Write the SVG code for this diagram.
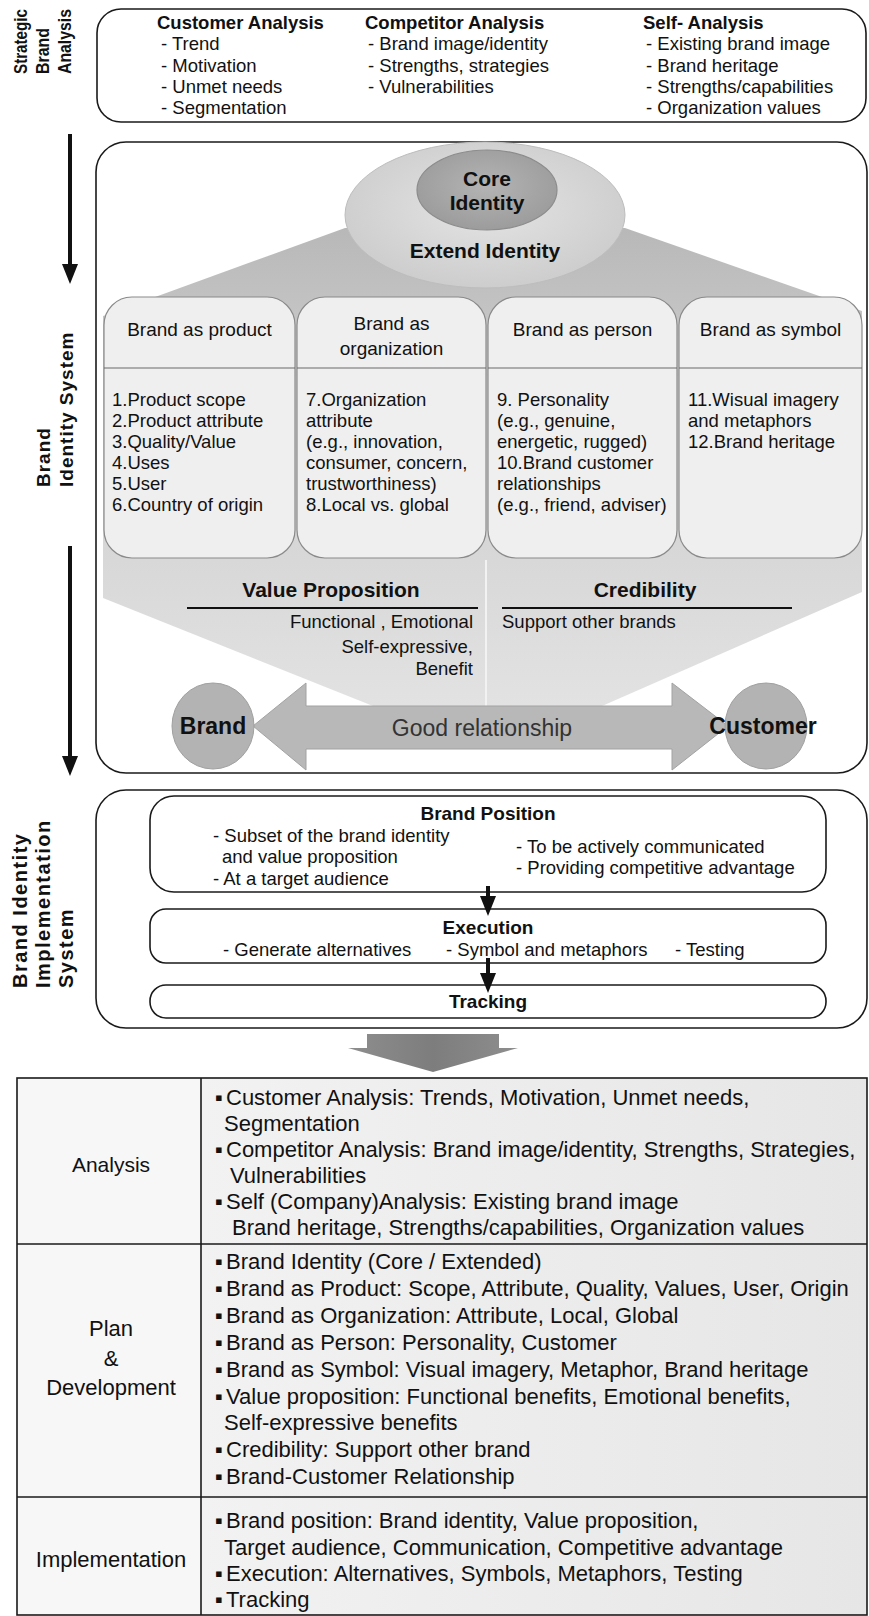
<svg xmlns="http://www.w3.org/2000/svg" width="869" height="1616" viewBox="0 0 869 1616">
<defs>
<linearGradient id="fan" x1="0" y1="0" x2="0" y2="1">
<stop offset="0" stop-color="#b8b8b8"/>
<stop offset="0.3" stop-color="#cbcbcb"/>
<stop offset="1" stop-color="#e2e2e2"/>
</linearGradient>
<radialGradient id="ext" cx="0.5" cy="0.45" r="0.55">
<stop offset="0" stop-color="#e4e4e4"/>
<stop offset="1" stop-color="#cdcdcd"/>
</radialGradient>
<radialGradient id="core" cx="0.5" cy="0.45" r="0.55">
<stop offset="0" stop-color="#b4b4b4"/>
<stop offset="1" stop-color="#9c9c9c"/>
</radialGradient>
<linearGradient id="cell" x1="0" y1="0" x2="1" y2="0">
<stop offset="0" stop-color="#f2f2f2"/>
<stop offset="1" stop-color="#e6e6e6"/>
</linearGradient>
<linearGradient id="down" x1="0" y1="0" x2="1" y2="0">
<stop offset="0" stop-color="#8e8e8e"/>
<stop offset="0.5" stop-color="#7d7d7d"/>
<stop offset="1" stop-color="#8e8e8e"/>
</linearGradient>
<marker id="ah" viewBox="0 0 20 16" refX="8" refY="8" markerWidth="20" markerHeight="16" markerUnits="userSpaceOnUse" orient="auto">
<path d="M0,0 L20,8 L0,16 Z" fill="#111"/>
</marker>
</defs>
<style>
text { font-family: "Liberation Sans", Arial, sans-serif; fill: #111; }
.b { font-weight: bold; }
.s18 { font-size: 18.5px; }
.s19 { font-size: 19px; }
.s21 { font-size: 21px; }
.s22 { font-size: 22px; }
.s23 { font-size: 23px; }
.m { text-anchor: middle; }
.e { text-anchor: end; }
.lbl { font-weight: bold; }
.box { fill: #fff; stroke: #1a1a1a; stroke-width: 1.6; }
.col { fill: #efefef; stroke: #8a8a8a; stroke-width: 1.2; }
.sep { stroke: #6a6a6a; stroke-width: 1.2; }
.rule { stroke: #111; stroke-width: 2; }
.blk { stroke: #111; stroke-width: 4; fill: none; marker-end: url(#ah); }
.tb { stroke: #1a1a1a; stroke-width: 1.6; }
</style>

<g id="labels">
<text class="lbl" font-size="18" textLength="65" lengthAdjust="spacingAndGlyphs" transform="translate(27,74) rotate(-90)">Strategic</text>
<text class="lbl" font-size="18" textLength="46" lengthAdjust="spacingAndGlyphs" transform="translate(49,74) rotate(-90)">Brand</text>
<text class="lbl" font-size="18" textLength="65" lengthAdjust="spacingAndGlyphs" transform="translate(71,74) rotate(-90)">Analysis</text>
<text class="lbl" font-size="19" letter-spacing="1" transform="translate(50,487) rotate(-90)">Brand</text>
<text class="lbl" font-size="19" letter-spacing="1" transform="translate(73,487) rotate(-90)">Identity System</text>
<text class="lbl" font-size="20" letter-spacing="1.5" transform="translate(27,988) rotate(-90)">Brand Identity</text>
<text class="lbl" font-size="20" letter-spacing="1.5" transform="translate(50,988) rotate(-90)">Implementation</text>
<text class="lbl" font-size="20" letter-spacing="1.5" transform="translate(73,988) rotate(-90)">System</text>
</g>

<g id="strategic-analysis">
<rect class="box" x="97" y="9" width="769" height="113" rx="24"/>
<text class="b s18" x="157" y="29">Customer Analysis</text>
<text class="s18" x="161" y="50">- Trend</text>
<text class="s18" x="161" y="72">- Motivation</text>
<text class="s18" x="161" y="93">- Unmet needs</text>
<text class="s18" x="161" y="114">- Segmentation</text>
<text class="b s18" x="365" y="29">Competitor Analysis</text>
<text class="s18" x="368" y="50">- Brand image/identity</text>
<text class="s18" x="368" y="72">- Strengths, strategies</text>
<text class="s18" x="368" y="93">- Vulnerabilities</text>
<text class="b s18" x="643" y="29">Self- Analysis</text>
<text class="s18" x="646" y="50">- Existing brand image</text>
<text class="s18" x="646" y="72">- Brand heritage</text>
<text class="s18" x="646" y="93">- Strengths/capabilities</text>
<text class="s18" x="646" y="114">- Organization values</text>
</g>

<g id="identity-system">
<rect class="box" x="96" y="142" width="771" height="631" rx="30"/>
<path d="M345,228 L625,228 L862,311 L862,592 L602,706 L373,706 L103,598 L103,316 Z" fill="url(#fan)"/>
<line x1="486" y1="560" x2="486" y2="706" stroke="#f2f2f2" stroke-width="2"/>
</g>

<g id="identity-core">
<ellipse cx="485" cy="215" rx="140" ry="73" fill="url(#ext)" stroke="#bdbdbd" stroke-width="1"/>
<ellipse cx="487" cy="190" rx="70" ry="40" fill="url(#core)" stroke="#8c8c8c" stroke-width="1.2"/>
<text class="b s21 m" x="487" y="186">Core</text>
<text class="b s21 m" x="487" y="210">Identity</text>
<text class="b s21 m" x="485" y="258">Extend Identity</text>
</g>

<g id="brand-as-product">
<rect class="col" x="104" y="297" width="191" height="261" rx="28"/>
<line class="sep" x1="104" y1="368" x2="295" y2="368"/>
<text class="s19 m" x="199.5" y="336">Brand as product</text>
<text class="s18" x="112" y="406">1.Product scope</text>
<text class="s18" x="112" y="427">2.Product attribute</text>
<text class="s18" x="112" y="448">3.Quality/Value</text>
<text class="s18" x="112" y="469">4.Uses</text>
<text class="s18" x="112" y="490">5.User</text>
<text class="s18" x="112" y="511">6.Country of origin</text>
</g>

<g id="brand-as-organization">
<rect class="col" x="297" y="297" width="189" height="261" rx="28"/>
<line class="sep" x1="297" y1="368" x2="486" y2="368"/>
<text class="s19 m" x="391.5" y="330">Brand as</text>
<text class="s19 m" x="391.5" y="355">organization</text>
<text class="s18" x="306" y="406">7.Organization</text>
<text class="s18" x="306" y="427">attribute</text>
<text class="s18" x="306" y="448">(e.g., innovation,</text>
<text class="s18" x="306" y="469">consumer, concern,</text>
<text class="s18" x="306" y="490">trustworthiness)</text>
<text class="s18" x="306" y="511">8.Local vs. global</text>
</g>

<g id="brand-as-person">
<rect class="col" x="488" y="297" width="189" height="261" rx="28"/>
<line class="sep" x1="488" y1="368" x2="677" y2="368"/>
<text class="s19 m" x="582.5" y="336">Brand as person</text>
<text class="s18" x="497" y="406">9. Personality</text>
<text class="s18" x="497" y="427">(e.g., genuine,</text>
<text class="s18" x="497" y="448">energetic, rugged)</text>
<text class="s18" x="497" y="469">10.Brand customer</text>
<text class="s18" x="497" y="490">relationships</text>
<text class="s18" x="497" y="511">(e.g., friend, adviser)</text>
</g>

<g id="brand-as-symbol">
<rect class="col" x="679" y="297" width="183" height="261" rx="28"/>
<line class="sep" x1="679" y1="368" x2="862" y2="368"/>
<text class="s19 m" x="770.5" y="336">Brand as symbol</text>
<text class="s18" x="688" y="406">11.Wisual imagery</text>
<text class="s18" x="688" y="427">and metaphors</text>
<text class="s18" x="688" y="448">12.Brand heritage</text>
</g>

<g id="value-proposition">
<text class="b s21 m" x="331" y="597">Value Proposition</text>
<line class="rule" x1="187" y1="608" x2="478" y2="608"/>
<text class="s18 e" x="473" y="628">Functional , Emotional</text>
<text class="s18 e" x="473" y="653">Self-expressive,</text>
<text class="s18 e" x="473" y="675">Benefit</text>
</g>

<g id="credibility">
<text class="b s21 m" x="645" y="597">Credibility</text>
<line class="rule" x1="502" y1="608" x2="792" y2="608"/>
<text class="s18" x="502" y="628">Support other brands</text>
</g>

<g id="good-relationship">
<path d="M253,726 L306,683 L306,706 L672,706 L672,683 L728,726 L672,770 L672,749 L306,749 L306,770 Z" fill="#b8b8b8" stroke="#a2a2a2" stroke-width="1"/>
<text class="s23 m" x="482" y="736" style="fill:#333">Good relationship</text>
</g>

<g id="brand">
<ellipse cx="213" cy="726" rx="41" ry="43" fill="#b3b3b3" stroke="#a0a0a0" stroke-width="1"/>
<text class="b s23 m" x="213" y="734">Brand</text>
</g>

<g id="customer">
<ellipse cx="766" cy="726" rx="41" ry="43" fill="#b3b3b3" stroke="#a0a0a0" stroke-width="1"/>
<text class="b s23 m" x="763" y="734">Customer</text>
</g>

<g id="implementation-system">
<rect class="box" x="96" y="790" width="771" height="238" rx="30"/>
</g>

<g id="brand-position">
<rect class="box" x="150" y="796" width="676" height="96" rx="24"/>
<text class="b s19 m" x="488" y="820">Brand Position</text>
<text class="s18" x="213" y="842">- Subset of the brand identity</text>
<text class="s18" x="222" y="863">and value proposition</text>
<text class="s18" x="213" y="885">- At a target audience</text>
<text class="s18" x="516" y="853">- To be actively communicated</text>
<text class="s18" x="516" y="874">- Providing competitive advantage</text>
</g>

<g id="execution">
<rect class="box" x="150" y="909" width="676" height="54" rx="16"/>
<text class="b s19 m" x="488" y="934">Execution</text>
<text class="s18" x="223" y="956">- Generate alternatives</text>
<text class="s18" x="446" y="956">- Symbol and metaphors</text>
<text class="s18" x="675" y="956">- Testing</text>
</g>

<g id="tracking">
<rect class="box" x="150" y="985" width="676" height="33" rx="16"/>
<text class="b s19 m" x="488" y="1008">Tracking</text>
</g>

<g id="connectors">
<line class="blk" x1="70" y1="134" x2="70" y2="272"/>
<line class="blk" x1="70" y1="546" x2="70" y2="764"/>
<line class="blk" x1="488" y1="886" x2="488" y2="904"/>
<line class="blk" x1="488" y1="958" x2="488" y2="981"/>
<path d="M367,1034 L499,1034 L499,1048 L518,1048 L433,1072 L348,1048 L367,1048 Z" fill="url(#down)"/>
</g>

<g id="summary-table">
<rect x="17" y="1078" width="184" height="537" fill="#f7f7f7"/>
<rect x="201" y="1078" width="666" height="537" fill="url(#cell)"/>
<rect x="17" y="1078" width="850" height="537" fill="none" class="tb"/>
<line class="tb" x1="201" y1="1078" x2="201" y2="1615"/>
<line class="tb" x1="17" y1="1244" x2="867" y2="1244"/>
<line class="tb" x1="17" y1="1497" x2="867" y2="1497"/>

<text class="s21 m" x="111" y="1172">Analysis</text>
<text class="s22 m" x="111" y="1336">Plan</text>
<text class="s22 m" x="111" y="1366">&amp;</text>
<text class="s22 m" x="111" y="1395">Development</text>
<text class="s22 m" x="111" y="1567">Implementation</text>

<g class="s22">
<text x="215" y="1105">▪</text><text x="226" y="1105">Customer Analysis: Trends, Motivation, Unmet needs,</text>
<text x="224" y="1131">Segmentation</text>
<text x="215" y="1157">▪</text><text x="226" y="1157">Competitor Analysis: Brand image/identity, Strengths, Strategies,</text>
<text x="230" y="1183">Vulnerabilities</text>
<text x="215" y="1209">▪</text><text x="226" y="1209">Self (Company)Analysis: Existing brand image</text>
<text x="232" y="1235">Brand heritage, Strengths/capabilities, Organization values</text>

<text x="215" y="1269">▪</text><text x="226" y="1269">Brand Identity (Core / Extended)</text>
<text x="215" y="1296">▪</text><text x="226" y="1296">Brand as Product: Scope, Attribute, Quality, Values, User, Origin</text>
<text x="215" y="1323">▪</text><text x="226" y="1323">Brand as Organization: Attribute, Local, Global</text>
<text x="215" y="1350">▪</text><text x="226" y="1350">Brand as Person: Personality, Customer</text>
<text x="215" y="1377">▪</text><text x="226" y="1377">Brand as Symbol: Visual imagery, Metaphor, Brand heritage</text>
<text x="215" y="1404">▪</text><text x="226" y="1404">Value proposition: Functional benefits, Emotional benefits,</text>
<text x="224" y="1430">Self-expressive benefits</text>
<text x="215" y="1457">▪</text><text x="226" y="1457">Credibility: Support other brand</text>
<text x="215" y="1484">▪</text><text x="226" y="1484">Brand-Customer Relationship</text>

<text x="215" y="1528">▪</text><text x="226" y="1528">Brand position: Brand identity, Value proposition,</text>
<text x="224" y="1555">Target audience, Communication, Competitive advantage</text>
<text x="215" y="1581">▪</text><text x="226" y="1581">Execution: Alternatives, Symbols, Metaphors, Testing</text>
<text x="215" y="1607">▪</text><text x="226" y="1607">Tracking</text>
</g>
</g>
</svg>
